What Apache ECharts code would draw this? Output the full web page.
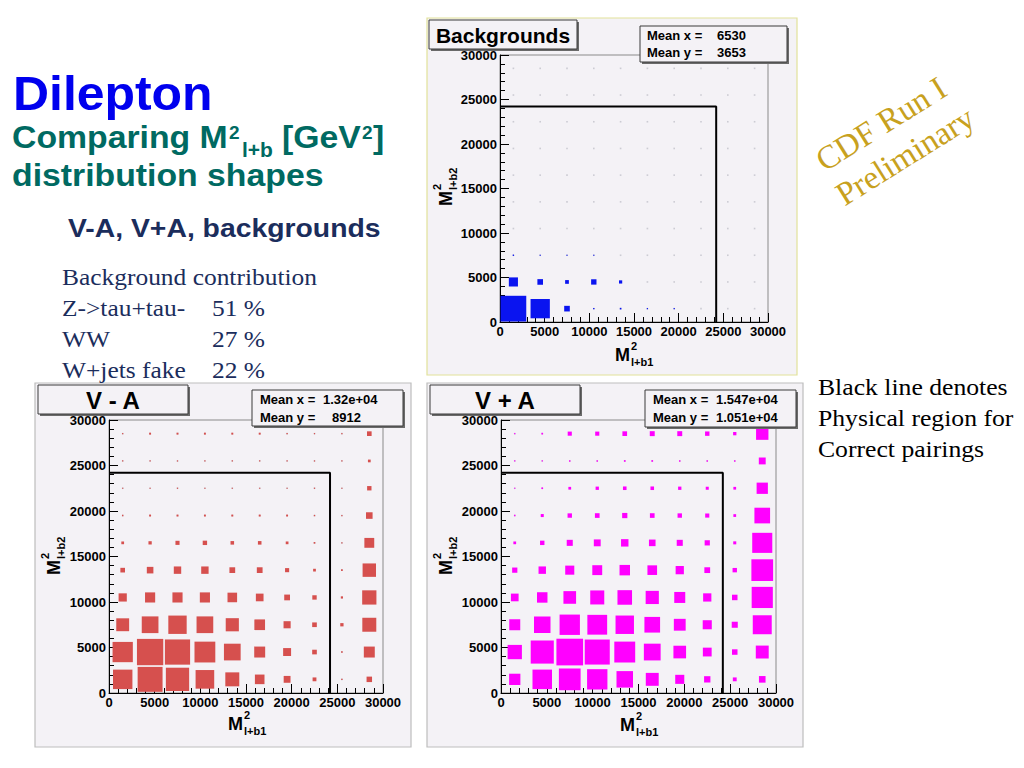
<!DOCTYPE html>
<html><head><meta charset="utf-8">
<script src="https://cdn.jsdelivr.net/npm/echarts@6/dist/echarts.min.js"></script>
<style>html,body{margin:0;padding:0;background:#fff}#c{width:1024px;height:768px}</style>
</head><body><div id="c"></div>
<script>
// ---------- data ----------
const binCenters = [1500,4500,7500,10500,13500,16500,19500,22500,25500,28500];
const boundary = 24200;   // physical region edge (GeV^2)
// box side as % of bin width; rows = y bins from bottom (1500 ... 28500), cols = x bins
const bkgBoxes = [
  [96,72,21,5,6,4,4,0,0,0],
  [34,21,14,20,12,0,0,0,0,0],
  [5,3,3,3,0,0,0,0,0,0],
  [0,0,0,0,0,0,0,0,0,0],
  [0,0,0,0,0,0,0,0,0,0],
  [0,0,0,0,0,0,0,0,0,0],
  [0,0,0,0,0,0,0,0,0,0],
  [0,0,0,0,0,0,0,0,0,0],
  [0,0,0,0,0,0,0,0,0,0],
  [0,0,0,0,0,0,0,0,0,0]
];
const vmaBoxes = [
  [71,91,85,68,51,35,25,14,5,20],
  [74,96,92,76,61,40,29,17,6,40],
  [47,61,67,61,48,39,26,17,12,51],
  [30,37,37,37,35,28,21,16,8,52],
  [17,24,27,27,21,21,15,10,6,49],
  [10,12,15,16,13,13,10,6,3,36],
  [5,7,7,7,7,7,7,5,3,24],
  [4,4,4,4,4,4,4,4,2,16],
  [2,2,2,2,2,2,2,2,2,10],
  [2,7,7,7,7,7,5,3,2,17]
];
const vpaBoxes = [
  [41,71,79,74,60,47,33,23,14,24],
  [52,84,97,91,76,61,46,32,20,47],
  [40,60,74,72,67,57,43,33,22,69],
  [28,38,46,51,53,48,40,30,20,77],
  [19,27,33,36,38,35,30,21,16,79],
  [10,16,22,25,27,24,22,19,11,73],
  [5,11,16,17,19,17,16,15,10,57],
  [2,6,10,12,13,13,12,11,10,41],
  [1,4,5,5,6,6,5,5,5,25],
  [1,6,15,15,17,18,18,16,12,45]
];
const bkgMean = ['6530','3653'];
const vmaMean = ['1.32e+04','8912'];
const vpaMean = ['1.547e+04','1.051e+04'];
const bkgShares = [['Z->tau+tau-','51 %'],['WW','27 %'],['W+jets fake','22 %']];

// ---------- layout ----------
const SANS = '"Liberation Sans", Arial, sans-serif';
const SERIF = '"Liberation Serif", "Times New Roman", serif';
const PANEL_BG = '#f4f2f6';
const panels = [
  {name:'Backgrounds', boxes:bkgBoxes, mean:bkgMean, color:'#0a14f0',
   frame:[427,18,370,357], frameStroke:'#e2e29a',
   grid:{left:500,top:55,width:268,height:267},
   title:{rect:[429,20,148,29], size:21},
   stats:{rect:[640,26,147,36], lx:647, vx:[717,717], ly:[35,52]},
   xt:[615,361], yt:[452,206]},
  {name:'V - A', boxes:vmaBoxes, mean:vmaMean, color:'#d6504e',
   frame:[35,383,376,364], frameStroke:'#bdbdbd',
   grid:{left:109,top:420,width:274,height:273},
   title:{rect:[38,385,150,29], size:24},
   stats:{rect:[252,390,151,36], lx:260, vx:[323,332], ly:[399,417]},
   xt:[228,730], yt:[60,575]},
  {name:'V + A', boxes:vpaBoxes, mean:vpaMean, color:'#ff00ff',
   frame:[427,383,376,364], frameStroke:'#bdbdbd',
   grid:{left:501,top:420,width:275,height:273},
   title:{rect:[430,385,150,29], size:24},
   stats:{rect:[645,390,151,37], lx:653, vx:[716,716], ly:[399,417]},
   xt:[620,731], yt:[452,575]}
];

function T(x, base, text, size, opt){
  opt = opt || {};
  return {type:'text', z: opt.z||60, x:x, y: base - 0.35*size, rotation: opt.rot||0,
    scaleX: opt.sx||1,
    style:{text:text, font:(opt.bold?'bold ':'')+size+'px '+(opt.fam||SANS),
      fill:opt.fill||'#000', align:opt.align||'left', verticalAlign:'middle'}};
}
function axisTitle(pos, sub, rot){
  return {type:'group', x:pos[0], y:pos[1], rotation:rot, z:60, children:[
    T(0,0,'M',18,{bold:true}),
    T(16,-11,'2',11,{bold:true}),
    T(16,5,sub,11,{bold:true})
  ]};
}
function box(r, z){
  return [
    {type:'rect', z:z, shape:{x:r[0]+2,y:r[1]+2,width:r[2],height:r[3]}, style:{fill:'#6a6a6a'}},
    {type:'rect', z:z+1, shape:{x:r[0],y:r[1],width:r[2],height:r[3]}, style:{fill:PANEL_BG, stroke:'#3a3a3a', lineWidth:1}}
  ];
}

const grids=[], xAxes=[], yAxes=[], series=[], graphics=[];
panels.forEach((p, gi)=>{
  grids.push(Object.assign({containLabel:false, outerBoundsMode:'none', show:true,
    backgroundColor:PANEL_BG, borderColor:'#8a8a8a', borderWidth:1}, p.grid));
  const common = {gridIndex:gi, type:'value', min:0, max:30000, interval:5000,
    axisLine:{show:true, onZero:false, lineStyle:{color:'#000', width:1}},
    axisTick:{show:true, inside:true, length:9, lineStyle:{color:'#000'}},
    minorTick:{show:true, splitNumber:5, length:5, lineStyle:{color:'#000'}},
    splitLine:{show:false}, minorSplitLine:{show:false},
    axisLabel:{color:'#000', fontFamily:SANS, fontWeight:'bold', fontSize:13, margin:3,
      formatter:(v)=>String(v)}};
  xAxes.push(Object.assign({}, common));
  yAxes.push(Object.assign({}, common));
  const binPx = p.grid.width/10;
  // faint markers at every bin centre
  const dots=[];
  binCenters.forEach(yv=>binCenters.forEach(xv=>dots.push([xv,yv])));
  series.push({type:'scatter', xAxisIndex:gi, yAxisIndex:gi, data:dots, symbol:'rect',
    symbolSize:1.6, itemStyle:{color:'#c2c2ca'}, silent:true, z:2});
  const data=[];
  p.boxes.forEach((row,j)=>row.forEach((v,i)=>{ if(v>0) data.push([binCenters[i], binCenters[j], v]); }));
  series.push({type:'scatter', xAxisIndex:gi, yAxisIndex:gi, data:data, symbol:'rect',
    symbolSize:(d)=>Math.max(1.2, d[2]/100*binPx), itemStyle:{color:p.color, opacity:1}, silent:true, z:3});
  series.push({type:'line', xAxisIndex:gi, yAxisIndex:gi, symbol:'none', silent:true, z:4,
    data:[[0,boundary],[boundary,boundary],[boundary,0]], lineStyle:{color:'#000', width:2}});
  // panel frame
  graphics.push({type:'rect', z:-5, shape:{x:p.frame[0],y:p.frame[1],width:p.frame[2],height:p.frame[3]},
    style:{fill:PANEL_BG, stroke:p.frameStroke, lineWidth:1.2}});
  // title box
  box(p.title.rect, 100).forEach(e=>graphics.push(e));
  const tr=p.title.rect;
  graphics.push({type:'text', z:110, x:tr[0]+tr[2]/2, y:tr[1]+tr[3]/2+1,
    style:{text:p.name, font:'bold '+p.title.size+'px '+SANS, fill:'#000', align:'center', verticalAlign:'middle'}});
  // stats box
  box(p.stats.rect, 100).forEach(e=>graphics.push(e));
  const s=p.stats;
  graphics.push({type:'text', z:110, x:s.lx, y:s.ly[0], style:{text:'Mean x =', font:'bold 13px '+SANS, fill:'#000', align:'left', verticalAlign:'middle'}});
  graphics.push({type:'text', z:110, x:s.lx, y:s.ly[1], style:{text:'Mean y =', font:'bold 13px '+SANS, fill:'#000', align:'left', verticalAlign:'middle'}});
  graphics.push({type:'text', z:110, x:s.vx[0], y:s.ly[0], style:{text:p.mean[0], font:'bold 13px '+SANS, fill:'#000', align:'left', verticalAlign:'middle'}});
  graphics.push({type:'text', z:110, x:s.vx[1], y:s.ly[1], style:{text:p.mean[1], font:'bold 13px '+SANS, fill:'#000', align:'left', verticalAlign:'middle'}});
  // axis titles
  graphics.push(axisTitle(p.xt, 'l+b1', 0));
  graphics.push(axisTitle(p.yt, 'l+b2', Math.PI/2));
});

// slide texts
const TEAL='#006a62', NAVY='#1b2d5c';
graphics.push(T(13,110,'Dilepton',48,{bold:true, fill:'#0000ee', sx:1.04}));
graphics.push(T(12,148,'Comparing M',31,{bold:true, fill:TEAL, sx:1.09}));
graphics.push(T(229,139,'2',19,{bold:true, fill:TEAL}));
graphics.push(T(242,157,'l+b',20,{bold:true, fill:TEAL, sx:1.05}));
graphics.push(T(282,148,'[GeV',31,{bold:true, fill:TEAL, sx:1.09}));
graphics.push(T(362,139,'2',19,{bold:true, fill:TEAL}));
graphics.push(T(373,148,']',31,{bold:true, fill:TEAL, sx:1.09}));
graphics.push(T(12,186,'distribution shapes',31,{bold:true, fill:TEAL, sx:1.09}));
graphics.push(T(68,237,'V-A, V+A, backgrounds',26,{bold:true, fill:NAVY, sx:1.09}));
graphics.push(T(62,285,'Background contribution',24,{fam:SERIF, fill:NAVY, sx:1.06}));
bkgShares.forEach((r,i)=>{
  graphics.push(T(62,316+31*i,r[0],24,{fam:SERIF, fill:NAVY, sx:1.06}));
  graphics.push(T(212,316+31*i,r[1],24,{fam:SERIF, fill:NAVY, sx:1.06}));
});
const ang = 32*Math.PI/180;
graphics.push({type:'text', z:60, x:881, y:124, rotation:ang,
  style:{text:'CDF Run I', font:'33px '+SERIF, fill:'#c8a11e', align:'center', verticalAlign:'middle'}});
graphics.push({type:'text', z:60, x:905, y:156, rotation:ang,
  style:{text:'Preliminary', font:'33px '+SERIF, fill:'#c8a11e', align:'center', verticalAlign:'middle'}});
['Black line denotes','Physical region for','Correct pairings'].forEach((t,i)=>{
  graphics.push(T(818,395+31*i,t,24,{fam:SERIF, fill:'#000', sx:1.07}));
});

const chart = echarts.init(document.getElementById('c'), null, {renderer:'svg'});
chart.setOption({
  animation:false, backgroundColor:'#ffffff',
  grid:grids, xAxis:xAxes, yAxis:yAxes, series:series,
  graphic:{elements:graphics}
});
</script></body></html>
